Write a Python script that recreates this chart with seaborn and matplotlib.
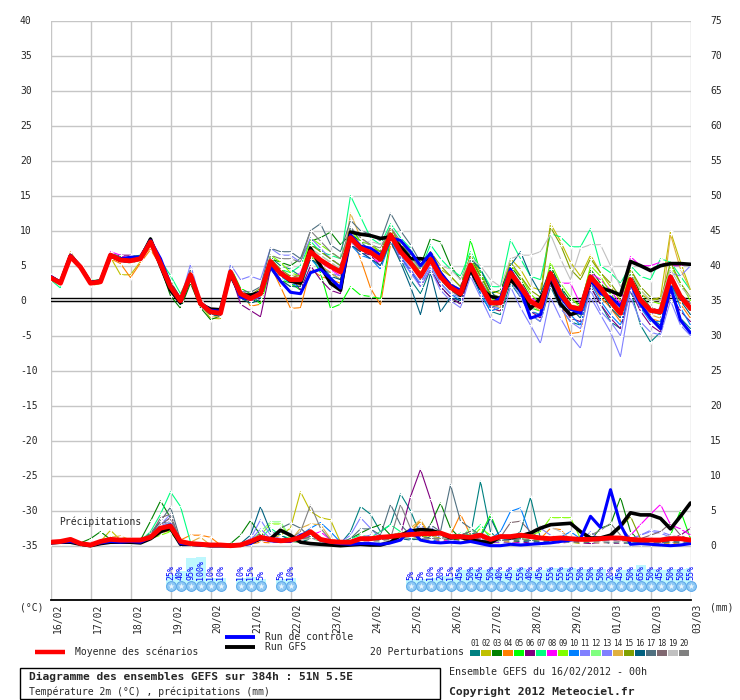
import matplotlib
matplotlib.use("Agg")
import matplotlib.pyplot as plt
from matplotlib.lines import Line2D
from matplotlib.patches import Rectangle
import seaborn as sns
import pandas as pd
import numpy as np

# ---------------- data ----------------
steps = list(range(65))  # 6-hourly steps, 0..384h
day_labels = ["16/02", "17/02", "18/02", "19/02", "20/02", "21/02", "22/02", "23/02",
              "24/02", "25/02", "26/02", "27/02", "28/02", "29/02", "01/03", "02/03", "03/03"]

temp_mean = [3.3, 2.5, 6.3, 4.8, 2.5, 2.7, 6.5, 5.8, 5.7, 6.0,
             8.4, 5.3, 2.0, 0.0, 3.7, -0.4, -1.6, -1.8, 4.1, 1.0, 0.3, 1.0,
             5.6, 3.9, 3.0, 3.0, 7.0, 5.8, 4.9, 4.1, 9.0, 7.5, 6.9, 5.9,
             9.4, 7.0, 5.4, 3.5, 5.9, 3.4, 1.9, 1.0, 5.1, 2.2, -0.3, -0.3,
             4.0, 2.0, -0.1, -0.9, 3.9, 1.0, -0.9, -1.2, 3.4, 1.8,
             -0.1, -1.8, 3.0, 0.1, -1.4, -1.6, 3.4, 0.6, -1.1]
temp_control = [3.5, 2.6, 6.5, 4.9, 2.6, 2.8, 6.6, 6.0, 6.2, 6.3,
                8.6, 6.0, 2.3, 0.2, 3.6, -0.3, -1.4, -1.5, 4.0, 0.5, 0.2, 1.3,
                4.8, 2.8, 1.2, 1.0, 4.0, 4.5, 3.2, 1.8, 9.4, 7.8, 7.5, 6.5,
                9.0, 8.6, 7.0, 5.0, 6.8, 4.0, 2.2, 1.5, 5.2, 2.0, -0.5, 0.4,
                4.5, 1.5, -2.5, -2.0, 3.6, 0.5, -1.2, -1.8, 3.0, 1.0,
                0.5, -0.8, 2.5, -0.5, -2.5, -4.0, 2.0, -2.8, -4.6]
temp_gfs = [3.4, 2.6, 6.4, 4.8, 2.6, 2.8, 6.4, 5.8, 5.9, 6.0,
            8.8, 5.0, 1.5, -0.3, 3.5, -0.5, -1.2, -1.3, 3.7, 0.8, 0.8, 1.2,
            5.3, 4.0, 2.8, 2.5, 7.5, 5.0, 2.5, 1.5, 9.8, 9.5, 9.3, 8.9,
            9.1, 7.7, 6.0, 6.0, 5.8, 3.9, 2.0, 0.8, 4.4, 1.8, 0.6, 0.3,
            3.0, 1.5, -1.1, 0.3, 3.0, -0.5, -2.0, -1.5, 2.8, 1.8,
            1.4, 0.8, 5.6, 5.0, 4.3, 5.0, 5.3, 5.3, 5.2]

t01 = [3.5, 2.7, 6.6, 5.0, 2.8, 3.0, 6.8, 6.3, 6.0, 6.2,
       8.7, 5.6, 1.8, -0.3, 3.5, -0.6, -2.0, -2.0, 4.3, 1.4, 0.6, 1.5,
       6.2, 5.0, 4.5, 3.5, 8.0, 7.2, 6.0, 5.0, 10.5, 8.5, 7.0, 5.5,
       9.0, 6.0, 3.0, 1.0, 4.5, 2.0, 0.5, -0.5, 4.0, 1.0, -1.5, -2.0,
       2.5, 0.5, -2.0, -3.0, 2.0, -1.0, -3.0, -3.5, 2.0, -0.5,
       -3.0, -4.0, 1.5, -3.5, -5.9, -4.5, 2.0, -2.5, -4.0]
t02 = [3.1, 2.3, 6.8, 4.6, 2.2, 2.4, 6.2, 3.7, 3.7, 5.6,
       8.0, 5.0, 1.5, 0.3, 4.0, -0.5, -2.5, -2.6, 3.8, 0.5, 0.0, 0.8,
       5.0, 3.0, 2.0, 2.5, 6.0, 5.0, 4.0, 3.0, 8.5, 7.0, 6.5, 6.0,
       9.5, 7.5, 6.0, 4.5, 7.0, 4.5, 3.5, 2.0, 6.5, 4.0, 1.5, 1.0,
       6.0, 4.5, 2.0, 1.5, 11.0, 8.5, 5.5, 3.5, 6.5, 4.0,
       2.0, 0.0, 4.5, 1.0, 0.0, 0.5, 9.9, 5.5, 1.5]
t03 = [3.2, 2.4, 6.2, 4.7, 2.6, 2.6, 6.3, 5.6, 5.4, 5.8,
       8.2, 4.8, 0.7, -1.1, 2.5, -1.0, -2.7, -2.2, 3.5, 0.8, -0.5, 0.8,
       6.0, 5.5, 5.0, 6.0, 8.5, 9.0, 9.8, 8.0, 9.5, 8.5, 8.0, 7.0,
       10.0, 8.0, 6.5, 5.0, 8.9, 8.4, 5.0, 3.0, 6.0, 3.5, 1.0, 1.5,
       5.0, 3.0, 0.5, 0.0, 5.0, 2.0, 0.0, -0.5, 4.5, 2.5,
       1.0, -1.0, 4.0, 1.0, -1.0, -1.5, 3.5, 1.0, -1.5]
t04 = [3.4, 2.6, 6.9, 4.9, 2.4, 2.8, 6.0, 5.3, 3.3, 5.4,
       7.3, 5.0, 2.3, 0.0, 3.5, -0.2, -1.5, -1.6, 4.5, 1.5, -0.8, -0.5,
       5.0, 2.0, -1.1, -1.0, 4.5, 3.5, 3.0, 2.5, 9.5, 6.0, 1.8, -0.6,
       8.0, 6.5, 5.0, 3.0, 6.0, 3.5, 1.5, 0.5, 5.5, 2.5, -1.0, -1.5,
       3.5, 1.0, -1.5, -2.0, 3.0, 0.0, -4.7, -4.5, 2.5, 0.5,
       -1.0, -3.0, 2.5, -1.0, -2.5, -3.0, 2.5, -0.5, -2.5]
t05 = [3.2, 2.5, 6.4, 4.9, 2.9, 2.9, 6.6, 6.0, 6.3, 6.5,
       9.0, 5.8, 2.5, 0.3, 3.9, -0.3, -1.2, -1.5, 4.8, 1.8, 1.0, -0.5,
       4.5, 3.0, 2.5, 1.5, 6.5, 4.0, -1.1, -0.5, 2.0, 0.8, 0.6, 0.3,
       9.0, 7.5, 6.5, 4.0, 5.5, 3.0, 1.5, 1.5, 8.7, 4.0, 0.5, 0.0,
       3.0, 1.5, -1.0, -1.5, 4.5, 1.5, -1.5, -2.0, 3.0, 1.0,
       -0.5, -2.0, 3.5, 0.5, -1.5, -2.0, 3.0, 0.0, -1.0]
t06 = [3.3, 2.4, 6.1, 4.6, 2.3, 2.5, 6.4, 6.5, 6.5, 6.1,
       8.5, 5.5, 2.0, -0.2, 3.6, -0.5, -1.8, -2.0, 4.0, -0.5, -1.4, -2.3,
       4.5, 4.0, 3.5, 1.5, 5.0, 3.0, 1.5, 1.0, 8.0, 7.0, 6.5, 5.0,
       8.5, 6.0, 4.5, 2.0, 4.5, 2.0, 0.5, -0.5, 4.0, 1.5, -1.0, -1.5,
       3.5, 1.0, -1.5, -2.5, 2.5, -0.5, -2.5, -3.0, 2.0, -0.5,
       -2.5, -4.0, 1.5, -1.5, -3.5, -4.5, 1.0, -1.5, -3.0]
t07 = [3.0, 1.8, 6.5, 4.5, 2.4, 2.6, 6.7, 6.0, 5.8, 6.3,
       8.3, 5.8, 3.6, 1.0, 3.9, -0.1, -1.3, -1.9, 4.4, 1.2, 0.5, 1.2,
       5.5, 4.5, 4.0, 5.0, 8.5, 7.0, 6.5, 6.0, 15.0, 12.0, 9.0, 8.0,
       11.0, 9.0, 7.5, 4.5, 8.0, 6.0, 4.5, 3.5, 7.0, 4.5, 2.0, 2.0,
       8.7, 6.0, 3.5, 3.0, 9.6, 9.1, 7.7, 7.7, 10.3, 5.0,
       4.0, 2.5, 5.0, 3.5, 3.0, 6.0, 5.5, 3.5, 1.5]
t08 = [3.3, 2.6, 6.2, 5.0, 2.7, 2.7, 7.0, 6.5, 5.9, 5.8,
       8.4, 5.0, 1.5, 0.0, 4.2, -0.6, -1.6, -1.7, 4.0, 0.6, 0.0, 0.5,
       5.0, 4.5, 3.0, 4.0, 7.5, 5.5, 4.5, 3.5, 8.5, 7.0, 6.0, 5.5,
       9.0, 7.0, 5.5, 3.0, 5.5, 3.0, 2.0, 1.0, 5.0, 2.5, 0.0, 0.0,
       4.5, 2.5, 0.5, -0.5, 4.0, 2.5, 2.5, -0.5, 4.0, 3.0,
       1.5, -0.5, 6.3, 5.0, 5.0, 5.5, 5.0, 5.0, 5.3]
t09 = [3.5, 2.3, 6.0, 5.0, 2.5, 3.0, 6.8, 6.2, 6.1, 6.4,
       8.6, 5.2, 2.5, 0.2, 3.8, -0.3, -1.7, -1.7, 4.5, 1.2, 0.6, 1.5,
       6.5, 5.5, 4.0, 3.5, 9.0, 8.0, 7.0, 6.0, 10.0, 8.5, 8.0, 7.0,
       10.0, 7.5, 6.0, 3.5, 6.5, 4.0, 2.5, 1.0, 6.0, 3.0, 0.0, 0.5,
       5.0, 3.5, 1.0, -0.5, 5.5, 2.5, 0.5, -1.0, 5.0, 3.5,
       1.0, -1.0, 4.5, 1.5, 0.0, -0.5, 5.0, 2.5, 0.0]
t10 = [3.2, 2.5, 6.3, 4.9, 2.4, 2.6, 6.4, 5.5, 5.5, 5.9,
       8.2, 5.0, 1.8, -0.5, 3.3, -0.8, -1.8, -2.0, 3.8, 0.7, 0.0, 0.6,
       5.2, 3.5, 2.5, 2.0, 6.0, 4.5, 4.0, 3.0, 8.0, 6.5, 6.0, 4.5,
       8.5, 6.5, 4.0, 2.5, 5.0, 2.5, 1.0, 0.0, 4.5, 1.0, -1.5, -1.0,
       3.0, 1.0, -1.5, -2.0, 3.5, 0.0, -2.0, -3.5, 2.5, 0.0,
       -2.0, -3.5, 2.0, -1.0, -3.0, -3.0, 2.5, -1.0, -3.5]
t11 = [3.4, 2.6, 6.5, 4.7, 2.7, 2.5, 6.2, 5.8, 5.6, 6.1,
       8.6, 5.5, 2.2, 0.4, 4.0, -0.2, -1.4, -1.6, 4.4, 1.5, 0.8, 1.0,
       5.5, 4.0, 3.0, 2.5, 7.0, 5.0, 4.0, 3.5, 8.5, 7.0, 6.0, 5.0,
       8.5, 6.0, 4.0, 2.0, 4.5, 1.5, 0.0, -1.0, 3.5, 0.5, -2.5, -3.3,
       2.0, -1.0, -3.5, -6.1, 0.5, -2.5, -5.0, -6.8, 0.5, -2.0,
       -4.5, -8.0, 0.5, -3.0, -4.5, -4.9, 0.0, -3.5, -5.0]
t12 = [3.3, 2.5, 6.6, 4.8, 2.5, 2.9, 6.5, 5.9, 6.0, 6.0,
       8.5, 5.3, 2.1, 0.1, 3.7, -0.4, -1.4, -1.6, 4.2, 1.1, 0.5, 1.3,
       6.0, 4.0, 3.5, 3.0, 7.5, 6.5, 5.5, 4.5, 9.5, 8.0, 7.0, 6.5,
       9.5, 7.5, 6.0, 4.0, 6.5, 3.5, 2.5, 1.5, 5.5, 2.5, 0.0, -0.5,
       4.0, 2.0, 0.0, -1.0, 4.5, 1.5, -0.5, -1.0, 3.5, 2.0,
       0.0, -1.5, 3.0, 0.5, -1.0, -1.5, 3.5, 0.5, -1.0]
t13 = [3.4, 2.8, 6.2, 4.8, 2.6, 2.8, 6.6, 6.1, 5.8, 6.0,
       8.5, 5.4, 1.9, 0.2, 5.2, 0.0, -1.5, -1.5, 5.2, 3.0, 3.5, 3.0,
       7.5, 6.5, 6.5, 5.5, 9.0, 7.5, 6.0, 5.0, 9.0, 7.5, 7.0, 6.0,
       9.0, 6.5, 4.5, 2.5, 5.0, 2.5, 1.0, 0.5, 4.0, 1.5, -1.0, -1.0,
       3.0, 0.5, -2.0, -3.0, 2.5, -1.0, -3.0, -4.0, 1.5, -1.5,
       -3.0, -5.0, 1.5, -1.0, -2.0, -1.0, 4.0, 3.5, 5.0]
t14 = [3.3, 2.4, 7.0, 4.8, 2.3, 2.5, 6.7, 6.0, 5.5, 5.9,
       7.5, 5.2, 1.5, 0.0, 3.5, -0.6, -2.1, -2.4, 3.9, 0.9, 0.2, 0.9,
       5.5, 3.5, 3.5, 2.0, 6.5, 5.0, 4.0, 3.0, 12.5, 9.0, 8.0, 6.5,
       10.0, 8.0, 7.0, 4.0, 6.0, 4.0, 2.0, 1.0, 5.0, 2.0, -0.5, -1.0,
       4.5, 2.0, -0.5, -1.5, 3.5, 0.5, -1.5, -2.0, 3.5, 1.5,
       -0.5, -2.5, 3.0, -0.5, -2.0, -2.5, 9.5, 4.5, 1.5]
t15 = [3.2, 2.6, 6.4, 4.8, 2.6, 2.7, 6.3, 5.9, 5.7, 6.2,
       8.5, 5.7, 2.8, 0.4, 4.0, -0.3, -1.5, -1.7, 4.3, 1.3, 0.8, 1.8,
       6.0, 4.5, 3.5, 3.5, 8.0, 7.0, 6.0, 5.0, 9.5, 8.0, 7.5, 7.0,
       10.5, 8.0, 6.0, 4.0, 7.0, 5.0, 3.5, 2.0, 6.5, 3.5, 1.0, 0.5,
       5.5, 3.5, 1.5, 0.5, 10.5, 8.0, 4.5, 3.0, 6.0, 4.0,
       2.5, 0.5, 4.5, 2.0, 0.5, 0.0, 5.5, 2.5, 0.5]
t16 = [3.3, 2.5, 6.3, 5.0, 2.8, 2.8, 6.5, 5.6, 5.8, 6.1,
       8.3, 5.4, 1.5, -0.6, 3.2, -0.7, -2.0, -2.2, 3.5, 0.4, -0.4, 0.2,
       5.0, 3.0, 2.0, 2.0, 6.0, 5.0, 3.5, 3.0, 8.0, 7.0, 6.0, 5.0,
       8.5, 5.5, 2.0, -2.0, 4.0, -1.6, 0.5, 0.0, 6.0, 4.5, 1.5, -0.5,
       5.0, 7.0, 3.5, 1.0, 4.5, 2.0, -1.0, -2.5, 4.0, 1.5,
       -1.0, -2.5, 2.5, -0.5, -2.5, -3.5, 2.5, 0.0, -2.0]
t17 = [3.3, 2.7, 6.1, 4.6, 2.5, 2.6, 6.6, 6.0, 6.2, 6.2,
       8.9, 5.9, 2.4, 0.0, 4.5, -0.2, -1.6, -1.8, 4.6, 1.5, 1.2, 2.0,
       7.5, 7.0, 7.0, 6.0, 10.0, 11.0, 8.0, 7.0, 11.5, 10.0, 9.5, 8.5,
       12.5, 10.0, 8.0, 5.5, 6.5, 3.0, 1.5, 0.5, 5.0, 2.0, -1.0, -0.5,
       3.5, 1.5, -0.5, -1.0, 4.0, 1.0, -1.0, -1.5, 3.0, 1.5,
       -0.5, -2.0, 3.0, 0.0, -1.5, -2.0, 3.0, 0.5, -1.0]
t18 = [3.4, 2.5, 6.3, 4.7, 2.4, 2.7, 6.4, 5.7, 5.9, 6.0,
       8.4, 5.1, 1.9, 0.1, 3.7, -0.5, -1.6, -1.9, 4.0, 0.9, 0.3, 0.8,
       5.5, 4.0, 2.5, 2.5, 7.0, 6.0, 5.0, 4.5, 9.5, 7.5, 7.5, 6.5,
       9.5, 7.0, 5.5, 3.0, 6.0, 3.5, 2.0, 1.0, 5.0, 2.0, -0.5, 0.0,
       4.0, 2.0, -0.5, -1.0, 4.0, 0.5, -1.5, -1.5, 3.5, 1.5,
       -0.5, -2.0, 3.5, 0.5, -1.0, -1.5, 4.0, 1.0, -0.5]
t19 = [3.3, 2.5, 6.4, 4.8, 2.5, 2.8, 6.5, 5.8, 5.7, 6.0,
       8.4, 5.3, 2.0, 0.0, 3.8, -0.4, -1.6, -1.8, 4.1, 1.0, 0.3, 1.0,
       5.5, 4.0, 3.0, 3.5, 7.5, 6.5, 5.5, 4.5, 9.0, 8.0, 8.5, 8.0,
       9.5, 7.0, 6.0, 4.5, 6.5, 5.0, 4.5, 3.0, 6.0, 5.0, 3.0, 2.0,
       6.0, 6.5, 6.5, 7.0, 9.5, 6.0, 3.0, 7.5, 8.0, 8.0,
       5.0, 2.0, 4.0, 1.5, 0.0, 0.0, 4.5, 2.0, 0.5]
t20 = [3.6, 2.8, 6.3, 5.1, 2.7, 2.6, 6.3, 6.0, 5.9, 6.3,
       9.0, 5.6, 2.2, 0.2, 4.0, -0.3, -1.4, -1.5, 4.2, 1.2, 0.5, 1.2,
       6.5, 6.0, 6.0, 5.5, 10.0, 8.5, 7.0, 6.0, 10.5, 9.0, 8.0, 7.5,
       10.5, 8.5, 6.5, 4.5, 6.5, 4.0, 2.5, 1.5, 5.5, 3.0, 0.5, 0.5,
       4.5, 2.5, 0.0, -0.5, 4.0, 1.0, -1.0, -1.0, 4.0, 2.0,
       0.0, -1.5, 3.5, 0.5, -1.0, -1.5, 3.0, 0.5, -1.5]

precip_mean = [0.5, 0.6, 0.9, 0.3, 0.1, 0.6, 0.9, 0.8, 0.8, 0.8,
               1.2, 2.5, 2.8, 0.6, 0.3, 0.2, 0.1, 0.1, 0.0, 0.1, 0.6, 1.2,
               0.9, 0.7, 0.8, 1.2, 2.0, 0.9, 0.6, 0.5, 0.5, 1.0, 1.0, 1.2,
               1.3, 1.5, 1.6, 1.7, 1.7, 1.8, 1.3, 1.3, 1.2, 1.5, 0.9, 1.3,
               1.3, 1.5, 1.3, 1.1, 1.0, 1.1, 1.0, 0.9, 0.9, 1.0,
               1.1, 1.1, 0.9, 0.8, 0.8, 0.8, 1.0, 1.0, 0.8]
precip_control = [0.4, 0.5, 0.6, 0.3, 0.1, 0.4, 0.6, 0.5, 0.6, 0.5,
                  1.2, 2.5, 3.0, 0.3, 0.2, 0.1, 0.0, 0.0, 0.0, 0.1, 0.3, 1.2,
                  0.7, 0.6, 0.6, 1.5, 2.0, 0.8, 0.5, 0.3, 0.2, 0.3, 0.3, 0.2,
                  0.4, 0.8, 2.3, 0.8, 0.5, 0.4, 0.5, 0.4, 0.6, 0.3, 0.0, 0.0,
                  0.2, 0.1, 0.2, 0.3, 0.4, 0.6, 0.8, 1.0, 4.2, 2.6,
                  8.0, 3.0, 0.2, 0.3, 0.2, 0.1, 0.0, 0.1, 0.3]
precip_gfs = [0.4, 0.5, 0.5, 0.2, 0.0, 0.3, 0.5, 0.5, 0.5, 0.4,
              1.0, 2.0, 2.5, 0.2, 0.2, 0.1, 0.0, 0.0, 0.0, 0.1, 0.4, 1.0,
              1.0, 2.2, 1.5, 0.5, 0.3, 0.2, 0.1, 0.0, 0.1, 0.2, 0.1, 0.1,
              0.5, 1.5, 2.1, 2.3, 2.2, 1.8, 1.1, 1.2, 0.8, 0.6, 0.4, 1.3,
              1.1, 1.4, 1.8, 2.5, 3.0, 3.1, 3.2, 2.0, 1.1, 1.1,
              1.5, 2.8, 4.7, 4.4, 4.4, 3.9, 2.4, 4.2, 6.1]

p01 = [0.5, 0.6, 0.8, 0.3, 0.1, 0.5, 0.8, 0.7, 0.9, 0.6,
       1.5, 3.5, 3.0, 0.5, 0.3, 0.2, 0.1, 0.1, 0.0, 0.2, 0.6, 1.0,
       0.8, 0.6, 0.5, 1.0, 1.5, 0.6, 0.4, 0.3, 2.0, 5.6, 4.5, 2.0,
       3.0, 7.4, 5.0, 1.5, 1.0, 0.8, 1.2, 0.6, 1.5, 9.2, 2.0, 0.5,
       1.0, 2.0, 6.9, 1.0, 0.5, 0.8, 0.5, 0.4, 0.6, 0.5,
       0.4, 0.5, 0.3, 0.4, 0.3, 0.5, 0.6, 0.4, 0.5]
p02 = [0.4, 0.6, 0.7, 0.2, 0.0, 0.6, 2.2, 0.8, 0.7, 0.5,
       1.2, 2.0, 3.0, 0.4, 0.5, 0.3, 0.1, 0.0, 0.0, 0.1, 0.4, 0.8,
       1.0, 1.5, 2.5, 7.7, 4.9, 4.0, 3.7, 0.5, 0.4, 0.8, 1.0, 0.6,
       1.0, 1.5, 2.0, 3.5, 1.0, 0.6, 0.8, 0.5, 0.6, 1.0, 0.5, 0.4,
       0.5, 0.6, 0.8, 0.5, 0.6, 0.4, 0.5, 0.3, 0.8, 0.6,
       0.4, 0.5, 0.6, 0.3, 0.2, 0.3, 0.4, 0.5, 0.3]
p03 = [0.6, 0.5, 0.8, 0.4, 1.0, 2.0, 0.9, 0.6, 0.6, 0.8,
       3.5, 6.4, 4.0, 0.3, 0.2, 0.1, 0.0, 0.0, 0.3, 1.5, 3.6, 1.5,
       0.6, 0.8, 0.6, 0.5, 1.0, 0.8, 0.5, 0.3, 1.0, 1.8, 2.5, 3.0,
       1.5, 1.8, 1.5, 1.0, 3.0, 6.1, 2.5, 1.0, 1.2, 1.5, 0.8, 0.6,
       0.8, 1.0, 0.6, 0.5, 0.7, 0.8, 0.6, 0.5, 0.8, 2.5,
       3.0, 6.9, 2.0, 0.5, 0.4, 0.5, 0.6, 0.5, 0.4]
p04 = [0.3, 0.5, 0.6, 0.2, 0.0, 0.4, 0.7, 1.0, 0.8, 0.6,
       1.0, 1.8, 2.2, 0.8, 1.5, 1.5, 1.2, 0.1, 0.0, 0.0, 0.2, 0.5,
       0.4, 0.6, 0.8, 1.0, 1.2, 0.8, 0.6, 0.4, 0.5, 0.7, 0.8, 0.6,
       1.0, 1.5, 2.0, 3.5, 1.5, 1.0, 1.5, 4.5, 1.5, 0.8, 0.5, 0.6,
       0.7, 0.8, 0.6, 1.0, 2.5, 2.3, 0.8, 0.6, 0.5, 0.4,
       0.5, 0.4, 0.6, 0.3, 0.4, 0.5, 0.3, 0.4, 0.5]
p05 = [0.5, 0.4, 0.6, 0.3, 0.2, 0.5, 0.6, 0.6, 0.7, 0.5,
       1.8, 2.5, 2.0, 0.2, 0.1, 0.2, 0.1, 0.0, 0.0, 0.1, 0.5, 1.2,
       0.5, 1.0, 0.7, 0.6, 1.5, 1.0, 0.5, 0.4, 0.6, 1.0, 0.8, 0.5,
       1.2, 1.0, 1.5, 1.0, 1.2, 0.8, 1.6, 1.5, 2.0, 1.5, 4.4, 1.0,
       0.6, 1.0, 0.8, 0.6, 0.5, 0.7, 0.6, 0.5, 0.5, 0.6,
       0.4, 0.6, 0.5, 0.4, 0.5, 0.8, 1.5, 5.0, 1.0]
p06 = [0.4, 0.5, 0.7, 0.3, 0.1, 0.4, 0.6, 0.5, 0.6, 0.7,
       1.5, 3.0, 4.0, 0.5, 0.2, 0.1, 0.0, 0.0, 0.0, 0.2, 0.8, 1.8,
       0.7, 0.5, 0.6, 0.8, 1.5, 0.8, 0.3, 0.2, 0.5, 0.6, 1.5, 0.8,
       1.0, 1.5, 7.0, 10.9, 6.6, 1.5, 1.0, 0.8, 0.6, 1.2, 0.4, 0.5,
       0.6, 0.4, 0.5, 0.3, 0.4, 0.5, 0.6, 0.4, 0.3, 0.5,
       0.4, 0.3, 0.5, 0.6, 0.5, 0.8, 1.0, 1.5, 2.5]
p07 = [0.5, 0.4, 0.5, 0.4, 0.3, 0.6, 0.7, 0.6, 0.8, 0.7,
       2.0, 4.5, 7.7, 5.6, 0.5, 0.3, 0.1, 0.0, 0.0, 0.2, 0.5, 1.0,
       2.5, 1.5, 1.0, 0.6, 1.5, 1.0, 0.6, 0.5, 1.0, 1.5, 1.2, 2.0,
       3.0, 2.0, 1.5, 1.0, 1.2, 1.6, 1.0, 1.8, 1.5, 3.0, 1.0, 0.8,
       1.0, 0.8, 0.6, 0.5, 0.6, 0.5, 0.8, 0.6, 0.5, 0.4,
       0.6, 0.5, 0.4, 0.5, 0.6, 0.4, 0.5, 0.6, 0.5]
p08 = [0.4, 0.5, 0.6, 0.3, 0.2, 0.5, 0.6, 0.6, 0.5, 0.6,
       1.2, 2.0, 2.5, 0.4, 0.2, 0.1, 0.0, 0.0, 0.0, 0.1, 0.3, 0.8,
       0.6, 0.5, 0.8, 1.0, 1.5, 2.0, 0.8, 0.5, 0.5, 0.7, 0.6, 0.8,
       0.8, 1.0, 1.2, 1.0, 0.8, 0.6, 0.8, 0.6, 0.7, 1.0, 0.6, 0.5,
       0.6, 0.5, 0.7, 0.6, 0.5, 0.4, 0.5, 0.6, 0.5, 0.4,
       0.5, 0.6, 1.5, 3.0, 4.5, 5.9, 3.0, 2.4, 1.5]
p09 = [0.5, 0.6, 0.6, 0.4, 0.2, 0.6, 0.8, 0.7, 0.6, 0.5,
       1.0, 1.5, 2.0, 0.3, 0.2, 0.2, 0.1, 0.0, 0.0, 0.1, 0.4, 1.5,
       3.1, 3.1, 1.0, 0.8, 1.2, 0.8, 0.6, 0.4, 0.5, 0.8, 1.0, 0.8,
       1.5, 1.2, 1.0, 1.2, 1.5, 1.8, 1.5, 1.2, 1.0, 2.5, 1.5, 1.2,
       1.0, 1.2, 1.5, 2.0, 4.0, 4.0, 4.0, 1.0, 0.8, 0.6,
       0.8, 0.5, 0.6, 0.5, 0.4, 0.6, 0.5, 0.4, 0.6]
p10 = [0.4, 0.5, 0.6, 0.3, 0.1, 0.4, 0.6, 0.5, 0.6, 0.5,
       1.0, 2.5, 3.5, 0.5, 0.2, 0.1, 0.0, 0.0, 0.0, 0.1, 0.5, 1.2,
       0.8, 0.6, 0.6, 1.5, 2.5, 3.3, 2.0, 0.5, 0.6, 0.8, 1.0, 0.7,
       1.0, 1.5, 1.0, 0.8, 0.6, 1.0, 1.2, 0.8, 1.0, 0.6, 1.0, 2.0,
       4.9, 5.4, 1.5, 0.8, 1.0, 1.2, 2.0, 1.0, 0.6, 0.5,
       0.5, 0.4, 0.5, 0.6, 0.4, 0.5, 0.6, 0.5, 0.4]
p11 = [0.5, 0.6, 0.6, 0.3, 0.2, 0.5, 0.7, 0.6, 0.7, 0.6,
       1.4, 3.0, 4.5, 0.4, 0.3, 0.1, 0.0, 0.0, 0.0, 0.2, 1.0, 3.7,
       1.5, 1.0, 0.8, 0.7, 1.2, 0.8, 0.5, 0.5, 1.5, 4.0, 2.5, 1.0,
       1.0, 0.8, 1.2, 3.0, 1.5, 1.0, 0.8, 0.6, 1.0, 0.8, 0.6, 0.5,
       0.6, 0.8, 0.5, 0.6, 0.5, 0.7, 0.5, 0.6, 2.0, 0.8,
       0.6, 0.5, 1.0, 1.5, 2.0, 1.8, 1.2, 0.8, 0.6]
p12 = [0.5, 0.5, 0.7, 0.4, 0.2, 0.5, 0.6, 0.5, 0.6, 0.6,
       1.2, 2.2, 3.0, 0.3, 0.2, 0.1, 0.0, 0.0, 0.0, 0.1, 0.6, 2.0,
       3.4, 3.4, 1.2, 0.8, 1.0, 0.7, 0.5, 0.4, 0.6, 0.8, 1.0, 0.7,
       1.2, 2.0, 1.5, 1.0, 1.2, 1.0, 0.8, 1.0, 2.6, 1.2, 0.8, 0.6,
       0.8, 1.0, 1.2, 0.8, 0.7, 0.6, 0.5, 0.6, 0.8, 0.6,
       0.7, 0.5, 0.6, 0.4, 0.5, 0.4, 0.6, 0.5, 0.4]
p13 = [0.5, 0.6, 0.7, 0.3, 0.1, 0.5, 0.6, 0.7, 0.6, 0.5,
       1.3, 2.8, 3.5, 0.4, 0.2, 0.1, 0.0, 0.0, 0.0, 0.2, 0.8, 2.4,
       1.0, 0.8, 0.7, 1.2, 1.8, 0.8, 0.5, 0.3, 0.7, 1.2, 1.5, 0.8,
       1.0, 1.2, 2.5, 1.5, 2.8, 1.0, 0.8, 0.6, 1.0, 0.8, 0.6, 0.8,
       1.0, 1.5, 1.8, 2.5, 1.5, 1.0, 0.7, 0.6, 0.5, 0.7,
       0.8, 0.6, 0.7, 1.5, 2.2, 2.0, 1.5, 0.8, 0.6]
p14 = [0.4, 0.5, 0.6, 0.3, 0.2, 0.6, 1.2, 1.4, 0.8, 0.6,
       1.0, 2.0, 2.8, 0.4, 0.5, 1.2, 0.1, 0.0, 0.0, 0.1, 0.4, 0.9,
       0.8, 0.6, 0.7, 2.5, 3.1, 3.0, 1.0, 0.5, 0.6, 0.8, 0.9, 0.7,
       1.0, 1.5, 2.5, 3.7, 1.5, 1.0, 1.2, 0.8, 0.7, 0.6, 0.8, 0.7,
       0.6, 0.8, 0.7, 0.5, 0.6, 0.5, 0.7, 0.6, 0.5, 0.4,
       0.5, 0.4, 0.6, 0.5, 0.4, 0.5, 0.4, 0.6, 0.5]
p15 = [0.5, 0.4, 0.6, 0.3, 0.2, 0.5, 0.6, 0.5, 0.7, 0.6,
       1.2, 2.0, 2.5, 0.4, 0.2, 0.1, 0.0, 0.0, 0.0, 0.1, 0.5, 1.0,
       0.6, 0.8, 0.7, 0.8, 1.2, 0.9, 0.6, 0.4, 0.5, 0.7, 0.8, 0.6,
       0.9, 1.0, 1.2, 1.0, 0.8, 1.2, 1.0, 0.8, 1.0, 0.9, 0.7, 0.8,
       0.7, 0.6, 0.8, 0.6, 0.5, 0.7, 0.6, 0.5, 0.6, 1.0,
       1.5, 2.5, 4.2, 1.0, 0.5, 0.4, 0.5, 0.6, 0.4]
p16 = [0.5, 0.5, 0.6, 0.3, 0.2, 0.5, 0.7, 0.6, 0.7, 0.6,
       1.5, 2.5, 3.0, 0.4, 0.2, 0.1, 0.0, 0.0, 0.0, 0.3, 1.5, 5.6,
       2.0, 1.5, 0.8, 0.6, 1.0, 0.8, 0.5, 0.4, 0.8, 1.0, 1.2, 0.8,
       1.2, 1.0, 0.8, 1.0, 1.2, 0.8, 1.0, 1.5, 2.0, 1.2, 4.0, 1.0,
       0.8, 0.6, 0.7, 0.5, 0.6, 0.5, 0.7, 0.6, 0.5, 0.6,
       0.4, 0.5, 0.6, 0.5, 0.4, 0.5, 0.6, 0.5, 0.4]
p17 = [0.4, 0.5, 0.7, 0.3, 0.2, 0.6, 0.7, 0.5, 0.6, 0.7,
       1.8, 3.5, 5.5, 0.8, 0.2, 0.1, 0.0, 0.0, 0.0, 0.2, 0.6, 1.5,
       1.0, 2.5, 3.2, 2.5, 1.2, 1.0, 0.6, 0.4, 1.0, 2.4, 2.4, 1.5,
       5.9, 3.0, 1.5, 1.0, 3.0, 2.0, 8.7, 3.5, 2.5, 1.5, 1.0, 0.8,
       0.8, 1.0, 0.7, 0.6, 0.5, 0.6, 0.5, 0.7, 0.6, 0.8,
       1.0, 2.8, 1.0, 0.6, 0.5, 0.4, 0.6, 0.5, 0.4]
p18 = [0.5, 0.4, 0.6, 0.3, 0.1, 0.4, 0.6, 0.7, 0.6, 0.5,
       1.5, 4.0, 4.5, 0.5, 0.2, 0.1, 0.0, 0.0, 0.0, 0.1, 0.3, 0.8,
       0.7, 0.6, 0.8, 0.9, 1.2, 0.8, 0.5, 0.4, 0.5, 0.6, 0.8, 0.7,
       1.0, 1.2, 1.5, 1.2, 1.0, 0.8, 1.0, 1.5, 2.0, 1.5, 1.0, 1.2,
       3.3, 3.5, 2.0, 1.0, 0.8, 0.7, 0.6, 0.5, 0.7, 0.6,
       0.5, 0.6, 0.8, 1.0, 1.5, 2.0, 3.2, 1.5, 0.8]
p19 = [0.4, 0.5, 0.6, 0.4, 0.2, 0.5, 0.6, 0.5, 0.6, 0.6,
       1.2, 2.5, 3.5, 0.3, 0.2, 0.1, 0.0, 0.0, 0.0, 0.2, 0.5, 1.0,
       0.7, 0.6, 0.6, 0.8, 1.0, 0.8, 0.5, 0.4, 0.5, 0.6, 0.7, 0.6,
       0.8, 1.0, 1.2, 1.0, 0.9, 1.0, 1.2, 1.0, 0.8, 0.9, 0.8, 0.7,
       0.8, 1.5, 2.0, 2.8, 2.7, 2.0, 1.0, 0.7, 0.6, 0.5,
       0.6, 0.5, 0.7, 0.6, 0.8, 1.0, 1.5, 1.2, 0.8]
p20 = [0.5, 0.5, 0.7, 0.3, 0.2, 0.6, 0.7, 0.6, 0.7, 0.6,
       1.5, 3.0, 4.0, 0.5, 0.3, 0.1, 0.0, 0.0, 0.0, 0.2, 0.6, 1.2,
       0.8, 0.8, 1.0, 2.0, 5.8, 2.5, 0.8, 0.5, 0.7, 0.8, 1.0, 0.8,
       1.0, 5.9, 2.5, 1.2, 1.0, 1.0, 1.5, 1.2, 1.0, 0.8, 0.8, 0.7,
       0.8, 0.8, 1.0, 0.8, 0.7, 0.6, 0.8, 1.0, 1.5, 2.2,
       3.2, 1.5, 0.8, 0.6, 0.5, 0.6, 0.8, 0.6, 0.5]

member_names = ["01", "02", "03", "04", "05", "06", "07", "08", "09", "10",
                "11", "12", "13", "14", "15", "16", "17", "18", "19", "20"]
member_colors = ["#008080", "#c0c000", "#008000", "#ff8000", "#00ff00", "#800080",
                 "#00ff80", "#ff00ff", "#80ff00", "#0080ff", "#8080ff", "#80ff80",
                 "#8080ff", "#e0b040", "#80a000", "#006080", "#507080", "#806870",
                 "#c0c0c0", "#808080"]

snow_steps = [12, 13, 14, 15, 16, 17, 19, 20, 21, 23, 24,
              36, 37, 38, 39, 40, 41, 42, 43, 44, 45, 46, 47, 48, 49, 50,
              51, 52, 53, 54, 55, 56, 57, 58, 59, 60, 61, 62, 63, 64]
snow_pct = [25, 40, 95, 100, 10, 10, 10, 15, 5, 5, 10,
            5, 5, 10, 20, 15, 45, 50, 45, 50, 40, 45, 55, 40, 45, 55,
            55, 55, 50, 50, 50, 20, 45, 50, 65, 50, 45, 50, 50, 55]

temp_members = [t01, t02, t03, t04, t05, t06, t07, t08, t09, t10,
                t11, t12, t13, t14, t15, t16, t17, t18, t19, t20]
precip_members = [p01, p02, p03, p04, p05, p06, p07, p08, p09, p10,
                  p11, p12, p13, p14, p15, p16, p17, p18, p19, p20]

# ---------------- figure ----------------
sns.set_theme(style="white")
plt.rcParams["font.family"] = ["DejaVu Sans Mono", "DejaVu Sans"]

W, H = 740, 700
fig = plt.figure(figsize=(W / 100, H / 100), dpi=100)
fig.patch.set_facecolor("white")


def fx(x):
    return x / W


def fy(y):
    return 1 - y / H


PRECIP_OFFSET = -35
Y_BOTTOM = -42.76
ax = fig.add_axes([fx(50.5), fy(600), 640 / W, (600 - 20.7) / H])
ax.set_xlim(0, 64)
ax.set_ylim(Y_BOTTOM, 40)
ax.set_facecolor("white")
for s in ["left", "right", "top"]:
    ax.spines[s].set_visible(False)
ax.spines["bottom"].set_color("black")
ax.spines["bottom"].set_linewidth(1.3)

grid_c = "#c6c6c6"
for v in range(-35, 41, 5):
    ax.axhline(v, color=grid_c, lw=1.0, zorder=0)
for d in range(0, 65, 4):
    ax.axvline(d, color=grid_c, lw=1.0, zorder=0)
ax.set_xticks(range(0, 65, 4))
ax.set_xticklabels([])
ax.tick_params(axis="x", length=5, color=grid_c, width=1.0, direction="out")
ax.set_yticks([])

# zero-degree double line
ax.axhline(0.0, color="black", lw=1.0, zorder=1)
ax.axhline(0.45, color="black", lw=1.0, zorder=1)

# long-form data
rows_t, rows_p = [], []
for name, tv, pv in zip(member_names, temp_members, precip_members):
    for st, a, b in zip(steps, tv, pv):
        rows_t.append({"step": st, "value": a, "member": name})
        rows_p.append({"step": st, "value": b + PRECIP_OFFSET, "member": name})
df_t = pd.DataFrame(rows_t)
df_p = pd.DataFrame(rows_p)
pal = dict(zip(member_names, member_colors))

for df in (df_t, df_p):
    sns.lineplot(data=df, x="step", y="value", hue="member", palette=pal,
                 estimator=None, legend=False, ax=ax, lw=0.8, marker="+",
                 markersize=3.2, markeredgewidth=0.7, zorder=2)

det = pd.DataFrame({"step": steps,
                    "t_gfs": temp_gfs, "t_ctl": temp_control, "t_mean": temp_mean,
                    "p_gfs": [v + PRECIP_OFFSET for v in precip_gfs],
                    "p_ctl": [v + PRECIP_OFFSET for v in precip_control],
                    "p_mean": [v + PRECIP_OFFSET for v in precip_mean]})
for kind in ("t", "p"):
    sns.lineplot(data=det, x="step", y=f"{kind}_gfs", color="black", lw=2.6,
                 ax=ax, zorder=3, estimator=None)
    sns.lineplot(data=det, x="step", y=f"{kind}_ctl", color="#0000ff", lw=2.2,
                 ax=ax, zorder=3, estimator=None)
    sns.lineplot(data=det, x="step", y=f"{kind}_mean", color="#ff0000", lw=3.5,
                 ax=ax, zorder=4, estimator=None)
ax.set_xlabel("")
ax.set_ylabel("")

# snow probabilities
snow_df = pd.DataFrame({"step": snow_steps, "pct": snow_pct})
icon_y = -40.8
bar_bottom = -41.4
ax.bar(snow_df["step"], [-40.0 + p * 0.034 - bar_bottom for p in snow_df["pct"]],
       bottom=bar_bottom, width=1.0, color="#bdf7fd", zorder=1, linewidth=0)
ax.scatter(snow_df["step"], [icon_y] * len(snow_df), s=50, color="#8ec8f4",
           edgecolor="#5aa6ea", linewidth=0.7, zorder=5, clip_on=False)
ax.scatter(snow_df["step"], [icon_y] * len(snow_df), s=22, marker="*",
           color="#e8f6ff", linewidth=0, zorder=6, clip_on=False)
for st, p in zip(snow_df["step"], snow_df["pct"]):
    ax.text(st, -39.95, f"{p}%", rotation=90, ha="center", va="bottom",
            color="#0000ff", fontsize=6, zorder=7)

# axis labels
for v in range(-35, 41, 5):
    ypx = 300.7 - v * 7
    fig.text(fx(20), fy(ypx), f"{v}", ha="left", va="center", fontsize=7)
    fig.text(fx(710), fy(ypx), f"{v + 35}", ha="left", va="center", fontsize=7)
fig.text(fx(20), fy(607), "(°C)", ha="left", va="center", fontsize=7)
fig.text(fx(710), fy(607), "(mm)", ha="left", va="center", fontsize=7)
for k, lab in enumerate(day_labels):
    fig.text(fx(57.5 + 40 * k), fy(604), lab, rotation=90, ha="center",
             va="top", fontsize=7)
fig.text(fx(59), fy(522), "Précipitations", ha="left", va="center", fontsize=7)

# legend
def hline(x0, x1, y, color, lw):
    fig.add_artist(Line2D([fx(x0), fx(x1)], [fy(y), fy(y)], color=color, lw=lw,
                          transform=fig.transFigure, solid_capstyle="butt"))


hline(35, 65, 651.5, "#ff0000", 3.2)
fig.text(fx(75), fy(652), "Moyenne des scénarios", ha="left", va="center", fontsize=7)
hline(225, 255, 636.5, "#0000ff", 2.8)
fig.text(fx(265), fy(636.5), "Run de contrôle", ha="left", va="center", fontsize=7)
hline(225, 255, 646.5, "black", 2.8)
fig.text(fx(265), fy(646.5), "Run GFS", ha="left", va="center", fontsize=7)
fig.text(fx(370), fy(652), "20 Perturbations", ha="left", va="center", fontsize=7)
for k, (name, col) in enumerate(zip(member_names, member_colors)):
    x0 = 470 + 11 * k
    fig.add_artist(Rectangle((fx(x0), fy(656)), 10 / W, 6 / H, color=col,
                             transform=fig.transFigure, lw=0))
    fig.text(fx(x0 + 5), fy(643), name, ha="center", va="center", fontsize=5.6)

# title box
fig.add_artist(Rectangle((fx(20), fy(699)), 420 / W, 31 / H, fill=False,
                         edgecolor="black", lw=1.0, transform=fig.transFigure))
fig.text(fx(29), fy(677), "Diagramme des ensembles GEFS sur 384h : 51N 5.5E",
         ha="left", va="center", fontsize=8.1, fontweight="bold")
fig.text(fx(29), fy(691.5), "Température 2m (°C) , précipitations (mm)",
         ha="left", va="center", fontsize=7)
fig.text(fx(449), fy(672), "Ensemble GEFS du 16/02/2012 - 00h",
         ha="left", va="center", fontsize=7.2)
fig.text(fx(449), fy(691.5), "Copyright 2012 Meteociel.fr",
         ha="left", va="center", fontsize=8.2, fontweight="bold")

fig.savefig("out.png", dpi=100)
